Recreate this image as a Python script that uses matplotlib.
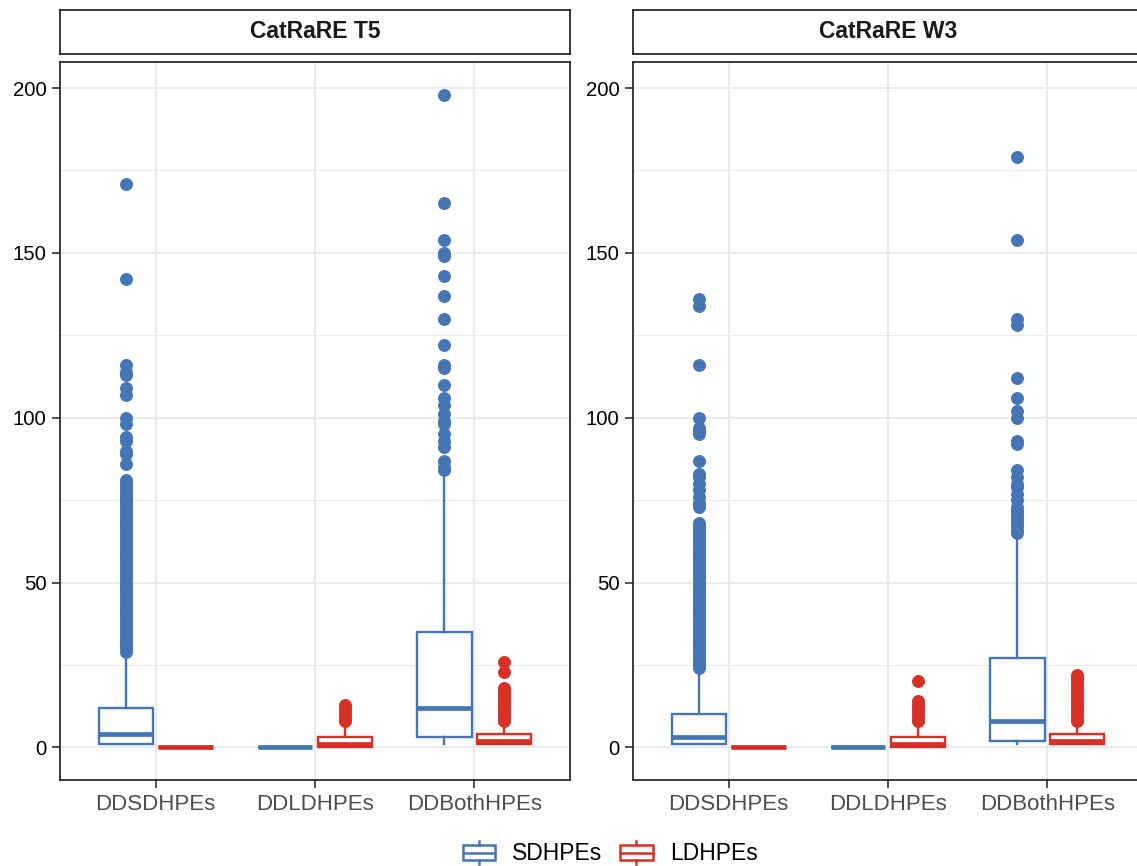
import matplotlib
matplotlib.use("Agg")
import matplotlib.pyplot as plt
from matplotlib.patches import Rectangle, Patch
from matplotlib.lines import Line2D
from matplotlib.legend_handler import HandlerBase

plt.rcParams["font.family"] = ["Liberation Sans", "DejaVu Sans"]

# categories
facets = ["CatRaRE T5", "CatRaRE W3"]
groups = ["DDSDHPEs", "DDLDHPEs", "DDBothHPEs"]
series = ["SDHPEs", "LDHPEs"]
colors = {"SDHPEs": "#4575B4", "LDHPEs": "#D73027"}

# CatRaRE T5 - SDHPEs (box summaries)
t5_sd_whislo = [1, 0, 1]
t5_sd_q1 = [1, 0, 3]
t5_sd_med = [4, 0, 12]
t5_sd_q3 = [12, 0, 35]
t5_sd_whishi = [28, 0, 83]
t5_sd_out = [
    [29, 30, 31, 32, 33, 34, 35, 36, 37, 38, 39, 40, 41, 42, 43, 44, 45, 46, 47, 48,
     49, 50, 51, 52, 53, 54, 55, 56, 57, 58, 59, 60, 61, 62, 63, 64, 65, 66, 67, 68,
     69, 70, 71, 72, 73, 74, 75, 76, 77, 78, 79, 80, 81, 86, 89, 90, 93, 94, 98, 100,
     107, 109, 113, 114, 116, 142, 171],
    [],
    [84, 85, 87, 91, 93, 95, 98, 99, 101, 104, 106, 110, 115, 116, 122, 130, 137,
     143, 149, 150, 154, 165, 198],
]

# CatRaRE T5 - LDHPEs
t5_ld_whislo = [0, 0, 1]
t5_ld_q1 = [0, 0, 1]
t5_ld_med = [0, 1, 2]
t5_ld_q3 = [0, 3, 4]
t5_ld_whishi = [0, 7, 7]
t5_ld_out = [
    [],
    [8, 9, 10, 11, 12, 13],
    [8, 9, 10, 11, 12, 13, 14, 15, 16, 17, 18, 23, 26],
]

# CatRaRE W3 - SDHPEs
w3_sd_whislo = [1, 0, 1]
w3_sd_q1 = [1, 0, 2]
w3_sd_med = [3, 0, 8]
w3_sd_q3 = [10, 0, 27]
w3_sd_whishi = [23, 0, 63]
w3_sd_out = [
    [24, 25, 26, 27, 28, 29, 30, 31, 32, 33, 34, 35, 36, 37, 38, 39, 40, 41, 42, 43,
     44, 45, 46, 47, 48, 49, 50, 51, 52, 53, 54, 55, 56, 57, 58, 59, 60, 61, 62, 63,
     64, 65, 66, 67, 68, 73, 74, 76, 78, 80, 82, 83, 87, 95, 96, 97, 100, 116, 134, 136],
    [],
    [65, 66, 67, 68, 69, 70, 71, 72, 73, 75, 77, 79, 80, 82, 84, 92, 93, 100, 102,
     106, 112, 128, 130, 154, 179],
]

# CatRaRE W3 - LDHPEs
w3_ld_whislo = [0, 0, 1]
w3_ld_q1 = [0, 0, 1]
w3_ld_med = [0, 1, 2]
w3_ld_q3 = [0, 3, 4]
w3_ld_whishi = [0, 7, 7]
w3_ld_out = [
    [],
    [8, 9, 10, 11, 12, 13, 14, 20],
    [8, 9, 10, 11, 12, 13, 14, 15, 16, 17, 18, 19, 20, 21, 22],
]

data = {
    ("CatRaRE T5", "SDHPEs"): (t5_sd_whislo, t5_sd_q1, t5_sd_med, t5_sd_q3, t5_sd_whishi, t5_sd_out),
    ("CatRaRE T5", "LDHPEs"): (t5_ld_whislo, t5_ld_q1, t5_ld_med, t5_ld_q3, t5_ld_whishi, t5_ld_out),
    ("CatRaRE W3", "SDHPEs"): (w3_sd_whislo, w3_sd_q1, w3_sd_med, w3_sd_q3, w3_sd_whishi, w3_sd_out),
    ("CatRaRE W3", "LDHPEs"): (w3_ld_whislo, w3_ld_q1, w3_ld_med, w3_ld_q3, w3_ld_whishi, w3_ld_out),
}


def make_stats(lo, q1, med, q3, hi, out):
    return [dict(whislo=lo[i], q1=q1[i], med=med[i], q3=q3[i], whishi=hi[i], fliers=out[i])
            for i in range(len(groups))]


class BoxKey(HandlerBase):
    # small boxplot glyph for the legend, like ggplot's key
    def create_artists(self, legend, orig, xd, yd, width, height, fontsize, trans):
        c = orig.get_edgecolor()
        x0, y0 = -xd, -yd
        box = Rectangle((x0, y0 + 0.2 * height), width, 0.6 * height,
                        facecolor="white", edgecolor=c, lw=1.8, transform=trans)
        med = Line2D([x0, x0 + width], [y0 + 0.5 * height] * 2, color=c, lw=1.8, transform=trans)
        w1 = Line2D([x0 + width / 2] * 2, [y0, y0 + 0.2 * height], color=c, lw=1.8, transform=trans)
        w2 = Line2D([x0 + width / 2] * 2, [y0 + 0.8 * height, y0 + height], color=c, lw=1.8, transform=trans)
        return [box, med, w1, w2]


W, H = 1137, 866
fig = plt.figure(figsize=(W / 100, H / 100), dpi=100)

panel_left = [60, 633]
panel_w = 510
panel_top, panel_bot = 62, 780
strip_top, strip_bot = 9.5, 53.5

offsets = {"SDHPEs": -0.1875, "LDHPEs": 0.1875}

for f, px in zip(facets, panel_left):
    ax = fig.add_axes([px / W, (H - panel_bot) / H, panel_w / W, (panel_bot - panel_top) / H])
    for s in series:
        c = colors[s]
        stats = make_stats(*data[(f, s)])
        pos = [i + 1 + offsets[s] for i in range(len(groups))]
        ax.bxp(stats, positions=pos, widths=0.34, patch_artist=True, showcaps=False,
               boxprops=dict(facecolor="white", edgecolor=c, lw=1.7),
               medianprops=dict(color=c, lw=3.4, solid_capstyle="butt"),
               whiskerprops=dict(color=c, lw=1.7),
               flierprops=dict(marker="o", markerfacecolor=c, markeredgecolor=c,
                               markersize=8.3, linestyle="none"),
               manage_ticks=False)
    ax.set_xlim(0.4, 3.6)
    ax.set_ylim(-9.9, 207.9)
    ax.set_xticks([1, 2, 3])
    ax.set_xticklabels(groups)
    ax.set_yticks([0, 50, 100, 150, 200])
    ax.set_yticks([25, 75, 125, 175], minor=True)
    ax.tick_params(axis="y", which="major", labelsize=14.7, labelcolor="black",
                   length=5.8, width=1.2, color="#333333", pad=4)
    ax.tick_params(axis="x", which="major", labelsize=16, labelcolor="#4D4D4D",
                   length=5.8, width=1.2, color="#333333", pad=4)
    ax.tick_params(which="minor", length=0)
    ax.grid(which="major", color="#EBEBEB", lw=1.5)
    ax.grid(which="minor", axis="y", color="#EBEBEB", lw=0.75)
    ax.set_axisbelow(True)
    for sp in ax.spines.values():
        sp.set_color("#1A1A1A")
        sp.set_linewidth(1.2)

    # facet strip
    sax = fig.add_axes([px / W, (H - strip_bot) / H, panel_w / W, (strip_bot - strip_top) / H])
    sax.set_xticks([])
    sax.set_yticks([])
    for sp in sax.spines.values():
        sp.set_color("#1A1A1A")
        sp.set_linewidth(1.2)
    sax.text(0.5, 0.5, f, ha="center", va="center", fontsize=16.5, fontweight="bold",
             color="#1A1A1A", transform=sax.transAxes)

handles = [Patch(facecolor="white", edgecolor=colors[s]) for s in series]
fig.legend(handles, series, loc="center", bbox_to_anchor=(610 / W, 1 - 853 / H), ncol=2,
           frameon=False, fontsize=16.5, handlelength=1.4, handleheight=1.2,
           handletextpad=0.75, columnspacing=0.8,
           handler_map={Patch: BoxKey()})

fig.savefig("out.png", dpi=100)
